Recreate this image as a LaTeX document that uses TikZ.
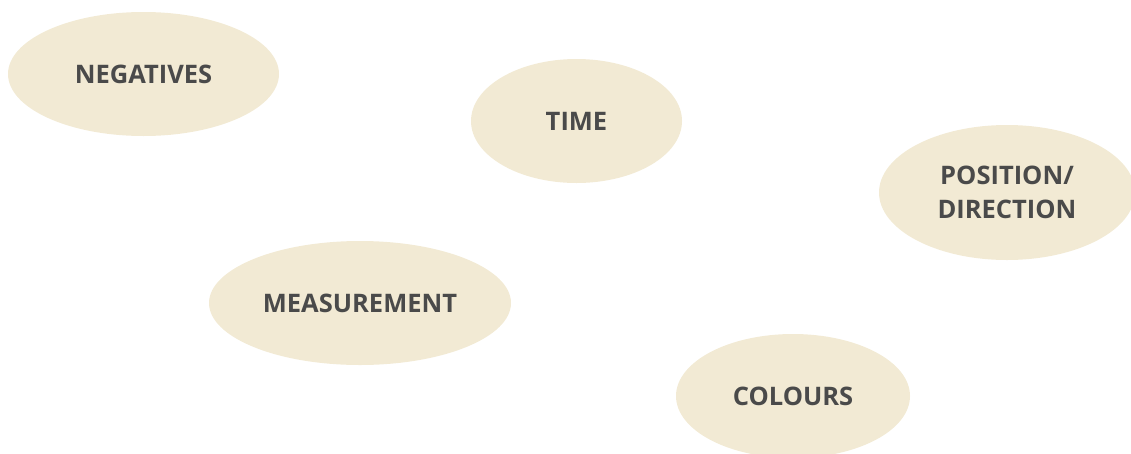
\documentclass[tikz,border=0pt]{standalone}
\usepackage{fontspec}
\setmainfont{Open Sans}
\usetikzlibrary{shapes.geometric}
\definecolor{bub}{HTML}{F2EAD4}
\definecolor{txt}{HTML}{4A4A4A}
\tikzset{
  bubble/.style={ellipse, fill=bub, draw=none, inner sep=0pt, text=txt,
    font=\fontsize{25.5}{34}\selectfont\bfseries, align=center}
}
\begin{document}
\begin{tikzpicture}[x=1pt,y=-1pt]
\useasboundingbox (0,0) rectangle (1131,453);
\clip (0,0) rectangle (1131,453);
\node[bubble, minimum width=271pt, minimum height=124pt] (neg) at (143.5,74) {NEGATIVES};
\node[bubble, minimum width=211pt, minimum height=124pt] (time) at (576.5,121) {TIME};
\node[bubble, minimum width=256pt, minimum height=135pt] (pos) at (1007,192.5) {POSITION/\\DIRECTION};
\node[bubble, minimum width=302pt, minimum height=124pt] (meas) at (360,303) {MEASUREMENT};
\node[bubble, minimum width=234pt, minimum height=124pt] (col) at (793,396) {COLOURS};
\end{tikzpicture}
\end{document}
